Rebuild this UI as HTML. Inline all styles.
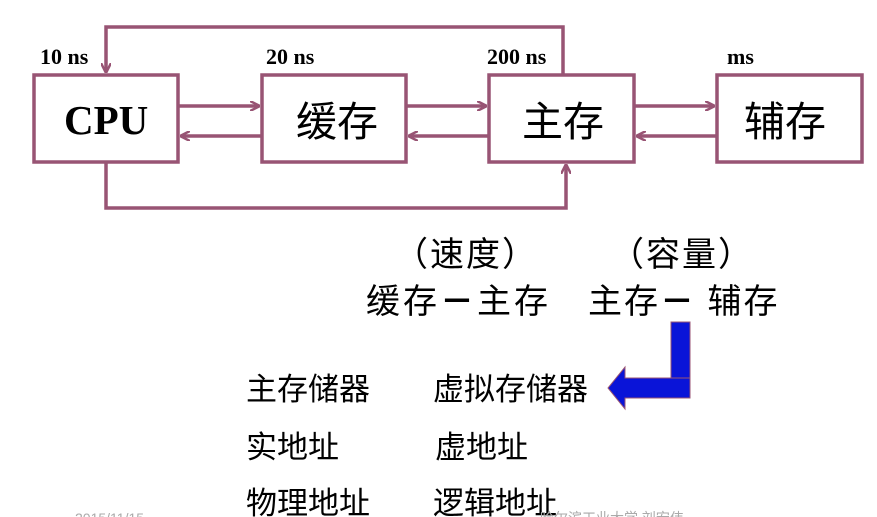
<!DOCTYPE html>
<html><head><meta charset="utf-8"><style>
html,body{margin:0;padding:0;background:#fff;width:877px;height:517px;overflow:hidden}
svg text{font-family:"Liberation Serif","Noto Serif CJK SC",serif}
.cj{font-family:"Liberation Sans","Noto Sans CJK SC",sans-serif}
</style></head><body>
<svg width="877" height="517" viewBox="0 0 877 517" xmlns="http://www.w3.org/2000/svg">
<defs>
<marker id="a" markerWidth="10" markerHeight="10" refX="9" refY="5" orient="auto" markerUnits="userSpaceOnUse"><path d="M0,0 L10,5 L0,10" fill="none" stroke="#985474" stroke-width="2.5"/></marker>
</defs>
<g stroke="#985474" stroke-width="3.5" fill="none">
<rect x="34" y="75" width="144" height="87"/>
<rect x="262" y="75" width="144" height="87"/>
<rect x="489" y="75" width="145" height="87"/>
<rect x="717" y="75" width="145" height="87"/>
<polyline points="563,75 563,27 106,27 106,72" marker-end="url(#a)"/>
<polyline points="106,162 106,208 566,208 566,165" marker-end="url(#a)"/>
<line x1="178" y1="106" x2="259" y2="106" marker-end="url(#a)"/>
<line x1="262" y1="136" x2="181" y2="136" marker-end="url(#a)"/>
<line x1="406" y1="106" x2="486" y2="106" marker-end="url(#a)"/>
<line x1="489" y1="136" x2="409" y2="136" marker-end="url(#a)"/>
<line x1="634" y1="106" x2="714" y2="106" marker-end="url(#a)"/>
<line x1="717" y1="136" x2="637" y2="136" marker-end="url(#a)"/>
</g>
<g font-weight="bold" font-size="22" fill="#000">
<text x="40" y="64">10 ns</text>
<text x="266" y="64">20 ns</text>
<text x="487" y="64">200 ns</text>
<text x="727" y="64">ms</text>
<text x="64" y="134" font-size="41">CPU</text>
</g>
<g class="cj" font-size="41" fill="#000">
<text x="296" y="136" class="cj">缓存</text>
<text x="522" y="136" class="cj">主存</text>
<text x="744" y="136" class="cj">辅存</text>
</g>
<g font-size="34" fill="#000">
<text x="394" y="266" class="cj" letter-spacing="2">（速度）</text>
<text x="610" y="266" class="cj" letter-spacing="2">（容量）</text>
<text x="366" y="313" class="cj" letter-spacing="3">缓存<tspan font-weight="bold">－</tspan>主存</text>
<text x="588" y="313" class="cj" letter-spacing="2">主存<tspan font-weight="bold">－</tspan> 辅存</text>
</g>
<path d="M671,322 L690,322 L690,398 L625,398 L625,409 L608,388 L625,367 L625,378 L671,378 Z" fill="#0a14d8" stroke="#985474" stroke-width="1"/>
<line x1="671" y1="378" x2="690" y2="378" stroke="#985474" stroke-width="1"/>
<g font-size="31" fill="#000">
<text x="246" y="400" class="cj">主存储器</text>
<text x="433" y="400" class="cj">虚拟存储器</text>
<text x="246" y="458" class="cj">实地址</text>
<text x="435" y="458" class="cj">虚地址</text>
<text x="246" y="514" class="cj">物理地址</text>
<text x="433" y="514" class="cj">逻辑地址</text>
</g>
<text x="75" y="523" font-size="14" fill="#aaa" class="cj">2015/11/15</text>
<text x="540" y="523" font-size="14" fill="#aaa" class="cj">哈尔滨工业大学 刘宏伟</text>
</svg>
</body></html>
